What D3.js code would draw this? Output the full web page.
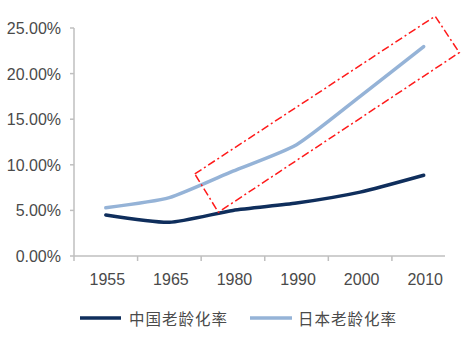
<!DOCTYPE html>
<html>
<head>
<meta charset="utf-8">
<script src="https://cdn.jsdelivr.net/npm/d3@7"></script>
<style>
  html, body { margin: 0; padding: 0; background: #ffffff; }
  svg { display: block; }
</style>
</head>
<body>
<svg id="chart" width="473" height="344"></svg>
<script>
const categories = ["1955", "1965", "1980", "1990", "2000", "2010"];
const chinaValues = [4.5, 3.7, 5.0, 5.8, 7.0, 8.85];
const japanValues = [5.3, 6.4, 9.3, 12.2, 17.5, 22.95];
const yTicks = [0, 5, 10, 15, 20, 25];
const seriesNames = ["中国老龄化率", "日本老龄化率"];
const seriesColors = ["#0f2e5c", "#95b3d7"];
// highlight box corners expressed in data space (category index, percent)
const boxCorners = [[1.4, 9.0], [5.18, 26.3], [5.56, 22.3], [1.77, 4.8]];

const svg = d3.select("#chart");
const plotLeft = 74, plotRight = 455.5, plotTop = 28, plotBottom = 256;

const x = d3.scaleBand().domain(categories).range([plotLeft, plotRight]).padding(0);
const y = d3.scaleLinear().domain([0, 25]).range([plotBottom, plotTop]);
const xi = d3.scaleLinear().domain([0, 1]).range([plotLeft + x.bandwidth() / 2, plotLeft + x.bandwidth() * 1.5]);

const axisColor = "#bfbfbf";
const textColor = "#4a4a4a";
const font = "'Liberation Sans', Arial, sans-serif";

// Y axis
svg.append("line")
  .attr("x1", plotLeft).attr("x2", plotLeft)
  .attr("y1", plotTop).attr("y2", plotBottom + 5)
  .attr("stroke", axisColor).attr("stroke-width", 1.5);
svg.selectAll(".ytick").data(yTicks).enter().append("line")
  .attr("x1", plotLeft - 4).attr("x2", plotLeft)
  .attr("y1", d => y(d)).attr("y2", d => y(d))
  .attr("stroke", axisColor).attr("stroke-width", 1.5);
svg.selectAll(".ylab").data(yTicks).enter().append("text")
  .attr("x", 61).attr("y", d => y(d) + 6)
  .attr("text-anchor", "end")
  .attr("font-family", font).attr("font-size", 16)
  .attr("fill", textColor)
  .text(d => d.toFixed(2) + "%");

// X axis
svg.append("line")
  .attr("x1", plotLeft).attr("x2", 445)
  .attr("y1", plotBottom).attr("y2", plotBottom)
  .attr("stroke", axisColor).attr("stroke-width", 1.5);
svg.selectAll(".xtick").data(categories.slice(1)).enter().append("line")
  .attr("x1", d => x(d)).attr("x2", d => x(d))
  .attr("y1", plotBottom).attr("y2", plotBottom + 5)
  .attr("stroke", axisColor).attr("stroke-width", 1.5);
svg.selectAll(".xlab").data(categories).enter().append("text")
  .attr("x", d => x(d) + x.bandwidth() / 2 + 1.5).attr("y", 285)
  .attr("text-anchor", "middle")
  .attr("font-family", font).attr("font-size", 16)
  .attr("fill", textColor)
  .text(d => d);

// Lines
const line = d3.line()
  .x((d, i) => x(categories[i]) + x.bandwidth() / 2)
  .y(d => y(d))
  .curve(d3.curveCardinal.tension(0.4));

[japanValues, chinaValues].forEach((vals, k) => {
  svg.append("path")
    .attr("d", line(vals))
    .attr("fill", "none")
    .attr("stroke", k === 0 ? seriesColors[1] : seriesColors[0])
    .attr("stroke-width", 3.5)
    .attr("stroke-linecap", "round")
    .attr("stroke-linejoin", "round");
});

// Highlight dash-dot box
const boxPts = boxCorners.map(c => [xi(c[0]), y(c[1])]);
svg.append("path")
  .attr("d", d3.line()(boxPts) + "Z")
  .attr("fill", "none")
  .attr("stroke", "#ff1a1a")
  .attr("stroke-width", 1.5)
  .attr("stroke-dasharray", "8,3,2,3");

// Legend
const legend = [
  { name: seriesNames[0], color: seriesColors[0], x0: 80, x1: 121, tx: 129 },
  { name: seriesNames[1], color: seriesColors[1], x0: 250, x1: 292, tx: 298 }
];
legend.forEach(l => {
  svg.append("line")
    .attr("x1", l.x0).attr("x2", l.x1)
    .attr("y1", 318).attr("y2", 318)
    .attr("stroke", l.color).attr("stroke-width", 3.5);
  svg.append("text")
    .attr("x", l.tx).attr("y", 324.5)
    .attr("font-family", "'Noto Sans CJK SC', sans-serif")
    .attr("font-size", 15.5)
    .attr("letter-spacing", 1)
    .attr("fill", textColor)
    .text(l.name);
});
</script>
</body>
</html>
